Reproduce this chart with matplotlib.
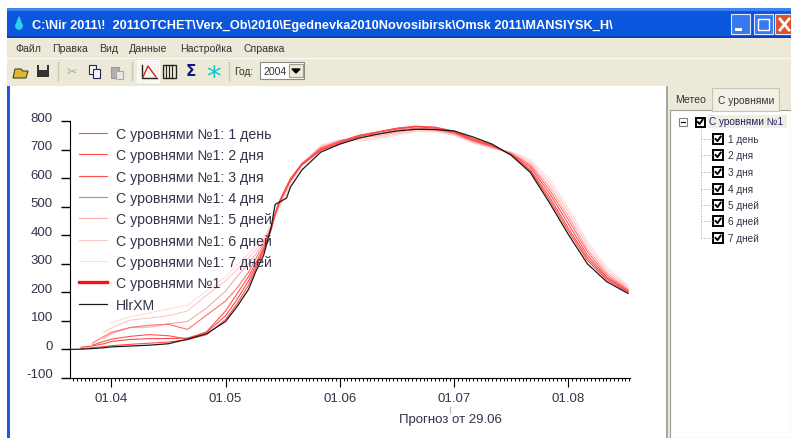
import numpy as np
import matplotlib
matplotlib.use('Agg')
import matplotlib.pyplot as plt
from matplotlib.patches import Rectangle, Polygon, Circle
from matplotlib.transforms import ScaledTranslation

plt.rcParams['font.family'] = ['Liberation Sans', 'DejaVu Sans']
plt.rcParams['axes.unicode_minus'] = False

# days counted from 01.04, one tick label = 30 days on this chart
days = [-11,-8,-5,-2,0,5,10,15,20,25,30,33,36,38,40,42,43,44,46,47,50,55,60,65,70,75,80,85,90,95,100,105,110,115,120,125,130,135.7]
nan = float('nan')

hlrxm = [0,1,3,6,9,12,15,20,36,55,98,150,210,275,330,430,508,515,530,568,628,691,719,740,754,765,771,770,765,744,719,680,620,515,403,300,238,196]
lead1 = [nan,3,6,10,13,18,22,26,34,52,105,160,225,285,345,420,470,510,565,590,645,697,722,745,760,772,780,778,765,738,716,682,625,525,415,312,245,200]
lead2 = [nan,8,12,20,28,35,38,38,40,60,118,175,240,295,350,425,475,515,570,595,648,699,725,748,762,775,782,778,763,735,714,682,630,535,425,320,250,203]
lead3 = [nan,nan,15,28,36,46,52,48,36,62,135,195,255,305,355,425,475,515,570,598,650,702,728,750,762,774,780,775,760,733,712,684,638,548,440,330,255,205]
lead4 = [nan,nan,22,45,60,77,85,88,70,120,170,215,270,320,365,428,470,510,565,595,650,705,730,748,755,768,775,772,757,730,710,686,645,560,455,342,262,208]
lead5 = [nan,nan,nan,38,55,77,78,90,98,145,205,255,300,335,375,430,470,505,560,590,650,708,730,742,748,760,770,768,755,728,708,688,650,572,468,352,270,212]
lead6 = [nan,nan,nan,60,75,103,110,118,135,190,240,280,320,350,385,435,470,500,555,585,650,712,733,735,742,755,765,765,752,725,705,690,658,585,482,365,280,218]
lead7 = [nan,nan,nan,nan,95,115,128,142,155,205,255,295,335,365,395,440,470,495,545,580,650,715,735,730,736,750,762,762,750,722,704,692,665,598,495,378,290,225]

leads = [lead7,lead6,lead5,lead4,lead3,lead2,lead1]
lead_labels = ['1 день','2 дня','3 дня','4 дня','5 дней','6 дней','7 дней']
lead_colors = ['#ff4a4a','#ff4a4a','#ff5050','#ff7070','#ffa8a8','#ffc8c8','#ffdcdc']
base_label = 'С уровнями №1'
tick_days = [0,30,60,90,120]
tick_labels = ['01.04','01.05','01.06','01.07','01.08']
y_ticks = [-100,0,100,200,300,400,500,600,700,800]

title = 'C:\\Nir 2011\\!  2011OTCHET\\Verx_Ob\\2010\\Egednevka2010Novosibirsk\\Omsk 2011\\MANSIYSK_H\\'
menus = ['Файл','Правка','Вид','Данные','Настройка','Справка']
menu_x = [15,52,99,129,180,244]

W,H = 791,439
txt = '#33334a'
fig = plt.figure(figsize=(W/100,H/100),dpi=100,facecolor='white')

# window furniture, in pixels
gui = fig.add_axes([0,0,1,1],zorder=0)
gui.set_xlim(0,W)
gui.set_ylim(H,0)
gui.axis('off')

def box(x,y,w,h,fc,ec='none',lw=0.8):
    gui.add_patch(Rectangle((x,y),w,h,facecolor=fc,edgecolor=ec,linewidth=lw))

box(7,9,784,30,'#0a56dc')
box(7,9,784,3,'#3c84f0')
box(7,37,784,2,'#0a3fc0')
box(7,39,784,48,'#ece9d8')
box(7,59,784,1,'#fbfaf5')
box(7,87,3,352,'#1a5ce0')

gui.add_patch(Circle((19,27),3.2,color='#30d0f0'))
gui.add_patch(Polygon([(16.4,25.5),(21.6,25.5),(19,18)],color='#30d0f0'))
gui.text(32,26.5,title,color='white',fontsize=9.2,fontweight='bold',va='center',ha='left')

for bx,bc in [(731,'#3a78ee'),(754,'#3a78ee'),(775,'#e0502a')]:
    box(bx,15,19,20,bc,ec='#dfe8ff',lw=0.8)
box(735,29,7,2.5,'white')
box(758,20,11,11,'none',ec='white',lw=1)
gui.plot([780,789],[20,31],color='white',lw=2)
gui.plot([789,780],[20,31],color='white',lw=2)

for m,mx in zip(menus,menu_x):
    gui.text(mx,49,m,color='#333333',fontsize=7.6,va='center',ha='left')

# toolbar
gui.add_patch(Polygon([(13,79),(15,70),(21,70),(23,72),(28,72),(26,79)],facecolor='#e0b830',edgecolor='#444422',linewidth=0.8))
box(37,66,12,12,'#333333')
box(39,66,8,5,'#e8e8d8')
gui.plot([58,58],[63,81],color='#c8c5b2',lw=1)
gui.text(72,72,'✂',color='#aaaaaa',fontsize=9,va='center',ha='center',family=['DejaVu Sans'])
box(89,66,7,9,'#f4f4f4',ec='#222266')
box(93,70,7,9,'#f4f4f4',ec='#222266')
box(111,68,8,11,'#b0b0b0',ec='#999999')
box(116,72,7,8,'#e8e8e8',ec='#aaaaaa')
gui.plot([132,132],[63,81],color='#c8c5b2',lw=1)
box(137,61,22,22,'#f6f5ef',ec='#ffffff')
gui.plot([142,142,157],[66,79,79],color='#222222',lw=1)
gui.plot([143,148,156],[78,67,78],color='#e02020',lw=1)
box(163,66,13,13,'#ece9d8',ec='#222222',lw=1)
for gx in [166,169,172]:
    gui.plot([gx,gx],[66,79],color='#222222',lw=0.8)
gui.text(191,71.5,'Σ',color='#14147a',fontsize=11,fontweight='bold',va='center',ha='center',family=['DejaVu Sans'])
gui.text(213,78,'*',color='#10c8c8',fontsize=21,va='center',ha='center',family=['DejaVu Sans'])
gui.plot([229,229],[63,81],color='#c8c5b2',lw=1)
gui.text(234,72,'Год:',color='#333333',fontsize=7.4,va='center',ha='left')
box(260,63,44,17,'white',ec='#8a8a80')
gui.text(263,72,'2004',color='#333333',fontsize=7.6,va='center',ha='left')
box(289,65,14,13,'#ece9d8',ec='#a0a090')
gui.add_patch(Polygon([(292,70),(300,70),(296,74)],color='black'))

# right panel
box(666,87,125,352,'#ece9d8')
box(666,87,2,352,'#a8a8a0')
box(670,111,121,328,'white',ec='#a0a0a0')
box(712,89,67,23,'#f2f0e6',ec='#c8c5b2')
gui.text(675,100,'Метео',color='#333333',fontsize=7.6,va='center',ha='left')
gui.text(718,101,'С уровнями',color='#333333',fontsize=7.4,va='center',ha='left')

box(679,119,8,8,'white',ec='#808080')
gui.plot([681,685],[123,123],color='black',lw=0.8)

def check(cx,cy,s):
    box(cx-s/2,cy-s/2,s,s,'white',ec='black',lw=1.4)
    gui.plot([cx-s*0.25,cx-s*0.05,cx+s*0.28],[cy,cy+s*0.22,cy-s*0.25],color='black',lw=1.4)

box(708,116,79,13,'#f0eee2')
check(700,123,9)
gui.text(709,122.5,base_label,color='#20206a',fontsize=7.2,va='center',ha='left')
tree_y = [140,156,173,190,206,222,239]
gui.plot([701,701],[129,tree_y[-1]],color='#aaaaaa',lw=0.7,ls=':')
for yy,lab in zip(tree_y,lead_labels):
    gui.plot([701,712],[yy,yy],color='#aaaaaa',lw=0.7,ls=':')
    check(718,yy,9.5)
    gui.text(728,yy,lab,color='#333344',fontsize=7.2,va='center',ha='left')

gui.plot([450,450],[408,414],color='#bbbbbb',lw=0.8)

# chart
ax = fig.add_axes([69.5/W,1-379/H,(630-69.5)/W,257/H],zorder=1)
ax.patch.set_alpha(0)
ax.set_xlim(-11,136.2)
ax.set_ylim(-100,800)

series_x = np.array(days)
for vals,col,lab in zip(leads,lead_colors[::-1],lead_labels[::-1]):
    ax.plot(series_x,vals,color=col,linewidth=0.8,label=base_label+': '+lab)
ax.plot([],[],color='#ff1010',linewidth=2.4,label=base_label)
ax.plot(series_x,hlrxm,color='#1a1a1a',linewidth=0.9,label='HlrXM')

h,l = ax.get_legend_handles_labels()
order = [6,5,4,3,2,1,0,7,8]
leg = ax.legend([h[i] for i in order],[l[i] for i in order],loc='upper left',bbox_to_anchor=(7.5/560.5,1.0-4/257),
                borderaxespad=0,borderpad=0.15,frameon=False,fontsize=10.2,handlelength=1.95,handletextpad=0.62,labelspacing=0.516,labelcolor=txt)
for t in leg.get_texts():
    t.set_zorder(5)

for s in ['top','right']:
    ax.spines[s].set_visible(False)
ax.set_yticks(y_ticks)
ax.set_xticks(tick_days)
ax.set_xticklabels(tick_labels)
ax.set_xticks(np.arange(-10,137,1),minor=True)
ax.tick_params(axis='y',length=6.5,width=1,labelsize=9.5,labelcolor=txt,pad=5.5)
ax.tick_params(axis='x',which='major',length=6.5,width=0.8,labelsize=9.5,labelcolor=txt,pad=3.5)
ax.tick_params(axis='x',which='minor',length=2.5,width=0.7)
ax.set_xlabel('Прогноз от 29.06',fontsize=9.5,color=txt)
ax.xaxis.set_label_coords((450-69.5)/560.5,-0.135)

# y labels sit a little above their ticks
shift = ScaledTranslation(0,5/100,fig.dpi_scale_trans)
for t in ax.get_yticklabels():
    t.set_transform(t.get_transform()+shift)

plt.savefig('out.png',dpi=100)
plt.close()
